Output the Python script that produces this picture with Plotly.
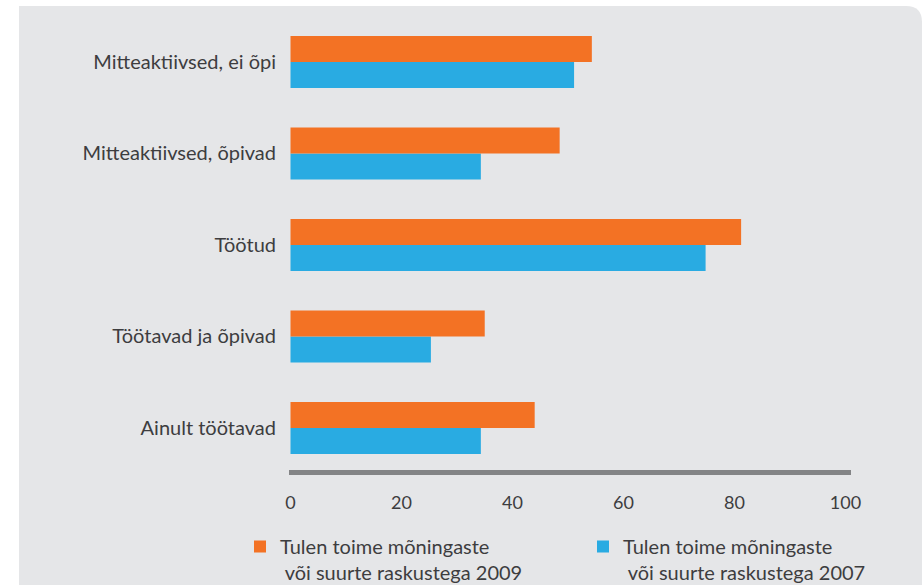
import plotly.graph_objects as go

categories = ["Ainult töötavad", "Töötavad ja õpivad", "Töötud",
              "Mitteaktiivsed, õpivad", "Mitteaktiivsed, ei õpi"]
values_2009 = [44.0, 35.0, 81.2, 48.5, 54.3]
values_2007 = [34.3, 25.3, 74.8, 34.3, 51.1]
name_2009 = "Tulen toime mõningaste<br> või suurte raskustega 2009"
name_2007 = "Tulen toime mõningaste<br> või suurte raskustega 2007"
x_ticks = [0, 20, 40, 60, 80, 100]

ORANGE = "#F37224"
BLUE = "#29ABE2"
TEXT = "#3d3d3f"
FONT = "Lato"

W, H = 923, 585
L, R, T, B = 289, 72, 10, 115
pw, ph = W - L - R, H - T - B


def px(x):
    return (x - L) / pw


def py(y):
    return (H - B - y) / ph


fig = go.Figure()
fig.add_trace(go.Bar(y=categories, x=values_2007, orientation="h", name=name_2007,
                     legend="legend2",
                     marker=dict(color=BLUE, line=dict(width=0))))
fig.add_trace(go.Bar(y=categories, x=values_2009, orientation="h", name=name_2009,
                     legend="legend",
                     marker=dict(color=ORANGE, line=dict(width=0))))

# grey rounded panel behind everything
x0, x1, y0, y1, rr = 19, 922, 6, 600, 16
path = (f"M {px(x0)},{py(y1)} L {px(x0)},{py(y0)} L {px(x1 - rr)},{py(y0)} "
        f"Q {px(x1)},{py(y0)} {px(x1)},{py(y0 + rr)} L {px(x1)},{py(y1)} Z")
fig.add_shape(type="path", path=path, xref="paper", yref="paper",
              fillcolor="#e5e6e8", line=dict(width=0), layer="below")

legend_common = dict(xref="container", yref="container", xanchor="left",
                     y=1 - 527 / H, yanchor="top", valign="top",
                     font=dict(size=20, color=TEXT, family=FONT),
                     bgcolor="rgba(0,0,0,0)", borderwidth=0)

fig.update_layout(
    width=W, height=H,
    margin=dict(l=L, r=R, t=T, b=B, autoexpand=False),
    paper_bgcolor="white", plot_bgcolor="rgba(0,0,0,0)",
    barmode="group", bargap=0.432, bargroupgap=0,
    font=dict(family=FONT, color=TEXT),
    showlegend=True,
    legend=dict(x=240 / W, **legend_common),
    legend2=dict(x=583 / W, **legend_common),
    xaxis=dict(range=[-0.27, 101.0], tickvals=x_ticks, showgrid=False, zeroline=False,
               showline=True, linecolor="#838486", linewidth=5,
               ticks="", ticklabelstandoff=12,
               tickfont=dict(size=18, color=TEXT, family=FONT), fixedrange=True),
    yaxis=dict(range=[-0.459, 4.568], showgrid=False, zeroline=False, showline=False,
               ticks="", ticklabelstandoff=12,
               tickfont=dict(size=20, color=TEXT, family=FONT), fixedrange=True),
)

fig.write_html("out.html", config={"displayModeBar": False},
               post_script="document.body.style.margin='0';document.body.style.overflow='hidden';")
